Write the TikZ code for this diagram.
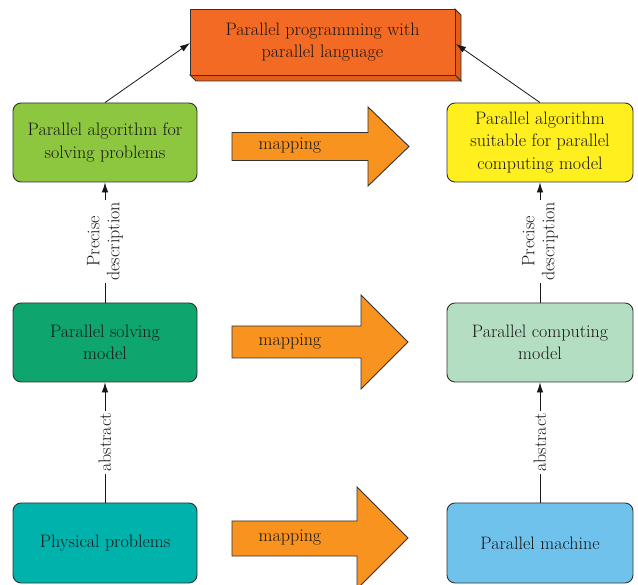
\documentclass[tikz,border=0pt]{standalone}
\usepackage{fontspec}
\setmainfont{Latin Modern Roman}
\usetikzlibrary{arrows.meta}
\definecolor{topor}{RGB}{242,106,36}
\definecolor{topside}{RGB}{226,92,28}
\definecolor{maporange}{RGB}{247,147,30}
\definecolor{leafgreen}{RGB}{141,198,63}
\definecolor{deepgreen}{RGB}{14,166,110}
\definecolor{tealbox}{RGB}{0,178,172}
\definecolor{yelbox}{RGB}{255,239,30}
\definecolor{palegreen}{RGB}{180,222,194}
\definecolor{skyblue}{RGB}{110,194,236}
\definecolor{edge}{RGB}{50,50,50}
\definecolor{ink}{RGB}{25,22,23}
\tikzset{
  every node/.style={font=\fontsize{18}{22.5}\selectfont, text=ink},
  stagebox/.style={draw=edge, line width=0.9pt, rounded corners=8pt,
    minimum width=184pt, minimum height=79pt, align=center, inner sep=2pt},
  maparrow/.style={draw=edge, line width=0.9pt, fill=maporange},
  link/.style={draw=ink, line width=0.8pt, -{Latex[length=10pt,width=6.5pt]}},
  vlabel/.style={rotate=90, fill=white, align=center, inner sep=2pt,
    font=\fontsize{18}{20}\selectfont},
}
\begin{document}
\begin{tikzpicture}[x=1pt, y=-1pt]
\useasboundingbox (0,0) rectangle (638,585);

% raised top block: side faces first, then the front face
\fill[topside, draw=edge, line width=0.9pt] (455,9) -- (461,15) -- (461,81) -- (455,75) -- cycle;
\fill[topside, draw=edge, line width=0.9pt] (190,75) -- (196,81) -- (461,81) -- (455,75) -- cycle;
\node[draw=edge, line width=0.9pt, fill=topor, minimum width=265pt, minimum height=66pt,
  align=center, inner sep=0pt] (top) at (322.5,42) {Parallel programming with\\parallel language};

% stage boxes
\node[stagebox, fill=leafgreen] (algo) at (105,142.5) {Parallel algorithm for\\solving problems};
\node[stagebox, fill=deepgreen] (solve) at (105,342.5) {Parallel solving\\model};
\node[stagebox, fill=tealbox, minimum height=80pt] (phys) at (105,543) {Physical problems};
\node[stagebox, fill=yelbox, minimum width=186pt] (suit) at (540,142.5) {Parallel algorithm\\suitable for parallel\\computing model};
\node[stagebox, fill=palegreen, minimum width=186pt] (comp) at (540,342.5) {Parallel computing\\model};
\node[stagebox, fill=skyblue, minimum width=186pt, minimum height=80pt] (mach) at (540,543) {Parallel machine};

% block arrows between the columns
\path[maparrow] (232,132.5) -- (368,132.5) -- (368,107) -- (409,146.5) -- (368,186) -- (368,160.5) -- (232,160.5) -- cycle;
\path[maparrow] (232,326) -- (361,326) -- (361,295) -- (408,342) -- (361,389) -- (361,358) -- (232,358) -- cycle;
\path[maparrow] (232,521) -- (357,521) -- (357,487) -- (408,538) -- (357,589) -- (357,556) -- (232,556) -- cycle;
\node (map1) at (290,146) {mapping};
\node (map2) at (290,342) {mapping};
\node (map3) at (290,538) {mapping};

% vertical links with their labels
\draw[link] (phys.north) -- (solve.south)
  node[vlabel, pos=0.5] (abs1) {abstract};
\draw[link] (mach.north) -- (comp.south)
  node[vlabel, pos=0.5] (abs2) {abstract};
\draw[link] (solve.north) -- (algo.south)
  node[vlabel, pos=0.51] (desc1) {Precise\\description};
\draw[link] (comp.north) -- (suit.south)
  node[vlabel, pos=0.51] (desc2) {Precise\\description};

% links up to the top block
\coordinate (topL) at (190,43);
\coordinate (topR) at (456,44);
\draw[link] (algo.north) -- (topL);
\draw[link] (suit.north) -- (topR);
\end{tikzpicture}
\end{document}
